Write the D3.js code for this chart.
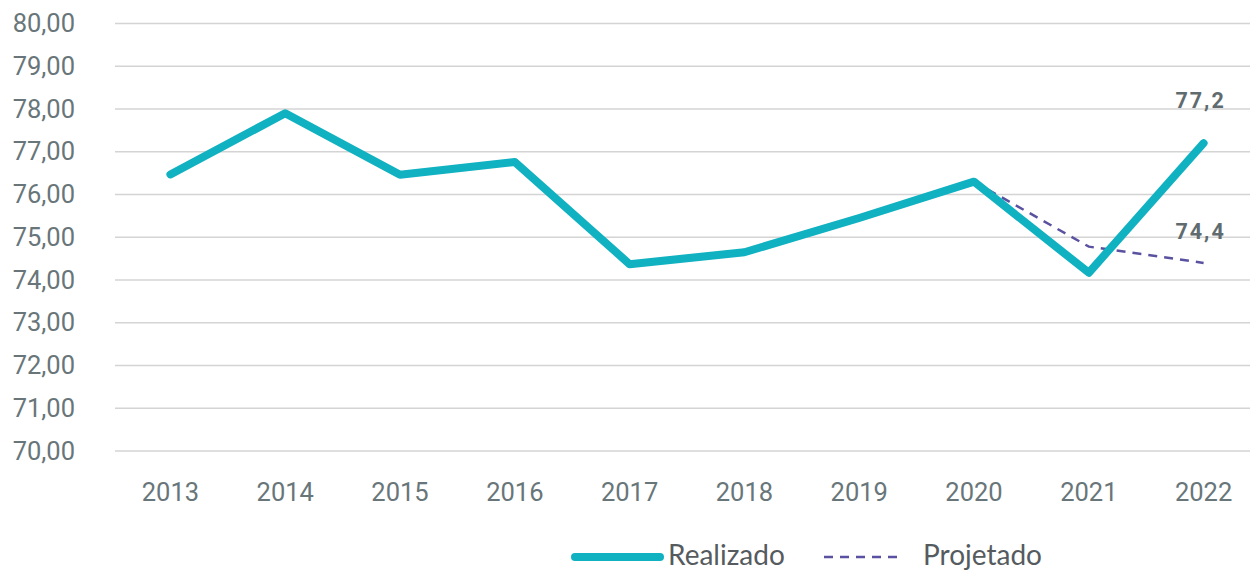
<!DOCTYPE html>
<html>
<head>
<meta charset="utf-8">
<script src="https://cdn.jsdelivr.net/npm/d3@7"></script>
<style>
  html, body { margin: 0; padding: 0; background: #fff; }
  svg { display: block; }
</style>
</head>
<body>
<svg id="chart" width="1250" height="572"></svg>
<script>
// Série histórica e projeção
const years = ["2013","2014","2015","2016","2017","2018","2019","2020","2021","2022"];
const realizado = [76.47, 77.9, 76.46, 76.76, 74.37, 74.65, 75.45, 76.3, 74.17, 77.2];
const projetadoYears = ["2020","2021","2022"];
const projetado = [76.3, 74.78, 74.4];
const yTicks = [70, 71, 72, 73, 74, 75, 76, 77, 78, 79, 80];
const dataLabels = [
  { year: "2022", value: 77.2, text: "77,2", dy: -35 },
  { year: "2022", value: 74.4, text: "74,4", dy: -24 }
];

const svg = d3.select("#chart");
const gridLeft = 115, gridRight = 1250;

const x = d3.scaleBand().domain(years).range([113, 1261]);
const cx = d => x(d) + x.bandwidth() / 2;
const y = d3.scaleLinear().domain([70, 80]).range([451, 23.5]);

const fmt = v => d3.format(".2f")(v).replace(".", ",");

// Linhas de grade
svg.append("g")
  .selectAll("line")
  .data(yTicks)
  .join("line")
  .attr("x1", gridLeft).attr("x2", gridRight)
  .attr("y1", d => y(d)).attr("y2", d => y(d))
  .attr("stroke", "#d4d4d4")
  .attr("stroke-width", 1.5);

// Eixo Y
const yAxis = svg.append("g")
  .attr("transform", "translate(88,0)")
  .call(d3.axisLeft(y).tickValues(yTicks).tickFormat(fmt).tickSize(0).tickPadding(13));
yAxis.select(".domain").remove();
yAxis.selectAll("text")
  .attr("font-family", "Roboto, sans-serif")
  .attr("font-size", 25.5)
  .attr("fill", "#68767a");

// Eixo X
const xAxis = svg.append("g")
  .attr("transform", "translate(0,475)")
  .call(d3.axisBottom(x).tickSize(0).tickPadding(8));
xAxis.select(".domain").remove();
xAxis.selectAll("text")
  .attr("font-family", "Roboto, sans-serif")
  .attr("font-size", 25.5)
  .attr("fill", "#68767a");

const line = d3.line().x(d => cx(d[0])).y(d => y(d[1]));

// Projetado (tracejado)
svg.append("path")
  .datum(projetadoYears.map((yr, i) => [yr, projetado[i]]))
  .attr("d", line)
  .attr("fill", "none")
  .attr("stroke", "#5a52a0")
  .attr("stroke-width", 2.5)
  .attr("stroke-dasharray", "9,7");

// Realizado
svg.append("path")
  .datum(years.map((yr, i) => [yr, realizado[i]]))
  .attr("d", line)
  .attr("fill", "none")
  .attr("stroke", "#10b1c1")
  .attr("stroke-width", 8)
  .attr("stroke-linejoin", "round")
  .attr("stroke-linecap", "round");

// Rótulos de valor
svg.append("g")
  .selectAll("text")
  .data(dataLabels)
  .join("text")
  .attr("x", d => cx(d.year) - 3)
  .attr("y", d => y(d.value) + d.dy)
  .attr("text-anchor", "middle")
  .attr("font-family", "Roboto, sans-serif")
  .attr("font-weight", "bold")
  .attr("font-size", 21.5)
  .attr("letter-spacing", 2)
  .attr("fill", "#5f6b6e")
  .text(d => d.text);

// Legenda
const legend = svg.append("g");
legend.append("line")
  .attr("x1", 575).attr("x2", 660)
  .attr("y1", 557).attr("y2", 557)
  .attr("stroke", "#10b1c1").attr("stroke-width", 8).attr("stroke-linecap", "round");
legend.append("text")
  .attr("x", 668).attr("y", 565)
  .attr("font-family", "Lato, 'Open Sans', sans-serif")
  .attr("font-size", 28)
  .attr("fill", "#555b5e")
  .text("Realizado");
legend.append("line")
  .attr("x1", 824).attr("x2", 904)
  .attr("y1", 557).attr("y2", 557)
  .attr("stroke", "#5a52a0").attr("stroke-width", 2.5).attr("stroke-dasharray", "9,7");
legend.append("text")
  .attr("x", 923).attr("y", 565)
  .attr("font-family", "Lato, 'Open Sans', sans-serif")
  .attr("font-size", 28)
  .attr("fill", "#555b5e")
  .text("Projetado");
</script>
</body>
</html>
